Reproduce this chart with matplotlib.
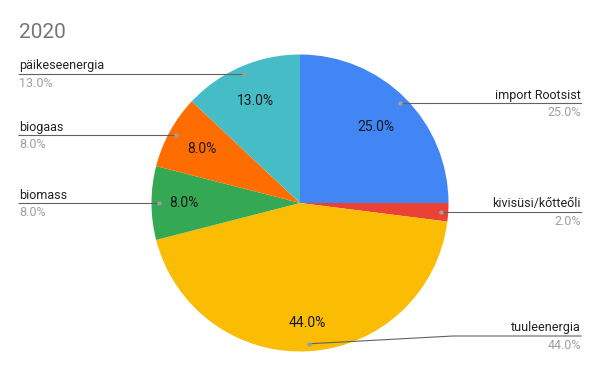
import matplotlib
matplotlib.use('Agg')
import matplotlib.pyplot as plt
import numpy as np

# ---- data ----
labels = ['import Rootsist', 'kivisüsi/kőtteőli', 'tuuleenergia', 'biomass', 'biogaas', 'päikeseenergia']
values = [25.0, 2.0, 44.0, 8.0, 8.0, 13.0]
title = '2020'

# ---- style / layout ----
colors = ['#4285F4', '#EA4335', '#FBBC04', '#34A853', '#FF6D01', '#46BDC6']
inner_frac = [0.72, None, 0.81, 0.78, 0.75, 0.75]
W, H = 600, 371
CX, CY_TOP, R = 300, 203, 148.5
CY = H - CY_TOP

plt.rcParams['font.family'] = ['Roboto', 'DejaVu Sans']
fig = plt.figure(figsize=(6, 3.71), dpi=100)
ax = fig.add_axes([0, 0, 1, 1])

ax.pie(values, colors=colors, startangle=90, counterclock=False, radius=R,
       center=(CX, CY), wedgeprops=dict(linewidth=0))
ax.set_xlim(0, W)
ax.set_ylim(0, H)
ax.set_aspect('equal')
ax.axis('off')

ax.text(19, H - 38, title, fontsize=15, color='#757575', ha='left', va='baseline')

total = sum(values)
cum = 0.0
for lab, v, frac in zip(labels, values, inner_frac):
    mid = 90 - 360 * (cum + v / 2) / total
    cum += v
    ux, uy = np.cos(np.radians(mid)), np.sin(np.radians(mid))
    pct = f'{100 * v / total:.1f}%'
    if frac is not None:
        ax.text(CX + frac * R * ux, CY + frac * R * uy, pct, fontsize=10,
                color='#1a1a1a', ha='center', va='center')
    dx, dy = CX + 0.95 * R * ux, CY + 0.95 * R * uy
    dy_top = H - dy
    ly_top = min(dy_top, 336)
    ly = H - ly_top
    if ux < 0:
        ax.plot([18, dx], [ly, dy], color='#616161', lw=0.8, solid_capstyle='butt')
        tx, ha = 19, 'left'
    else:
        if abs(ly - dy) > 0.5:
            ax.plot([dx, 453, 581], [dy, ly, ly], color='#616161', lw=0.8)
        else:
            ax.plot([dx, 581], [ly, ly], color='#616161', lw=0.8)
        tx, ha = 581, 'right'
    ax.plot([dx], [dy], 'o', ms=3.2, color='#9e9e9e', mec='none')
    ax.text(tx, H - (ly_top - 4.5), lab, fontsize=9, color='#222222', ha=ha, va='baseline')
    ax.text(tx, H - (ly_top + 13), pct, fontsize=9, color='#9e9e9e', ha=ha, va='baseline')

fig.savefig('out.png', dpi=100)
